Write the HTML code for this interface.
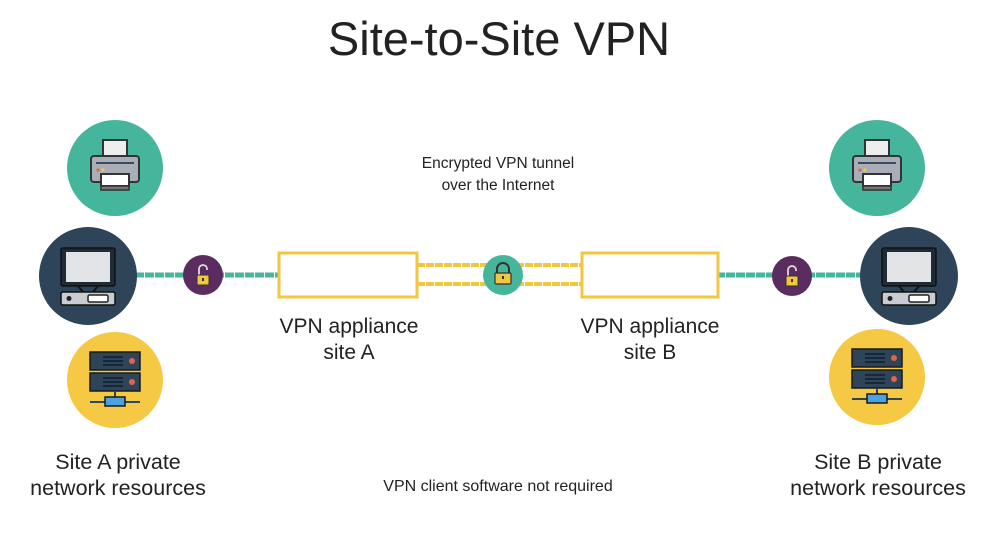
<!DOCTYPE html>
<html><head><meta charset="utf-8"><style>
html,body{margin:0;padding:0;background:#fff}
svg{display:block}
text{font-family:"Liberation Sans",sans-serif;fill:#222}
</style></head><body>
<svg width="997" height="539" viewBox="0 0 997 539" xmlns="http://www.w3.org/2000/svg">
<defs>
<g id="printer">
  <rect x="-12" y="-28" width="24" height="20" fill="#eee" stroke="#333" stroke-width="2"/>
  <rect x="-24" y="-12" width="48" height="26" rx="3" fill="#a9adb7" stroke="#333" stroke-width="2"/>
  <rect x="-19" y="-6" width="38" height="2" fill="#3a4a5c"/>
  <circle cx="-17" cy="2" r="1.6" fill="#e0644a"/><circle cx="-12" cy="2" r="1.6" fill="#f3c63f"/>
  <rect x="-14" y="6" width="28" height="12" fill="#fff" stroke="#333" stroke-width="2"/>
  <rect x="-14" y="18" width="28" height="4" fill="#777" stroke="#333" stroke-width="1.5"/>
</g>
<g id="monitor">
  <rect x="-27" y="-28" width="54" height="38" rx="2" fill="#1f2b36" stroke="#111" stroke-width="1.5"/>
  <rect x="-22" y="-24" width="44" height="30" fill="#e3e4e6"/>
  <path d="M-10 10 L-5 16 M10 10 L5 16" stroke="#111" stroke-width="2"/>
  <rect x="-27" y="16" width="54" height="13" rx="2" fill="#c9ccd1" stroke="#111" stroke-width="1.5"/>
  <circle cx="-19" cy="22.5" r="2.5" fill="#222"/>
  <rect x="0" y="19" width="20" height="7" rx="1.5" fill="#fff" stroke="#222" stroke-width="1.5"/>
</g>
<g id="server">
  <rect x="-25" y="-28" width="50" height="18" fill="#2d4459" stroke="#1a1a1a" stroke-width="1.5"/>
  <rect x="-25" y="-7" width="50" height="18" fill="#2d4459" stroke="#1a1a1a" stroke-width="1.5"/>
  <path d="M-12 -23h20M-12 -19h20M-12 -15h20M-12 -2h20M-12 2h20M-12 6h20" stroke="#0f1e2c" stroke-width="1.5"/>
  <circle cx="17" cy="-19" r="3" fill="#e0644a"/><circle cx="17" cy="2" r="3" fill="#e0644a"/>
  <path d="M0 11v8M-25 22h50" stroke="#2d4459" stroke-width="2"/>
  <rect x="-10" y="17" width="20" height="9" fill="#4aa3e0" stroke="#1a1a1a" stroke-width="1.5"/>
</g>
<g id="lockopen">
  <path d="M-4 -1 v-6 a4 4 0 0 1 8 0 v1" fill="none" stroke="#ddd" stroke-width="1.8"/>
  <rect x="-6" y="-1" width="12" height="10" rx="1" fill="#f3c63f" stroke="#333" stroke-width="1"/>
  <rect x="-1" y="2" width="2" height="3" fill="#333"/>
</g>
</defs>
<text x="499" y="55" font-size="47" text-anchor="middle" fill="#333">Site-to-Site VPN</text>

<line x1="135" y1="275" x2="280" y2="275" stroke="#45b69c" stroke-width="5" stroke-dasharray="9 1"/>
<line x1="716" y1="275" x2="862" y2="275" stroke="#45b69c" stroke-width="5" stroke-dasharray="9 1"/>
<line x1="417" y1="265" x2="582" y2="265" stroke="#f3c63f" stroke-width="4" stroke-dasharray="8 1"/>
<line x1="417" y1="284" x2="582" y2="284" stroke="#f3c63f" stroke-width="4" stroke-dasharray="8 1"/>
<rect x="279" y="253" width="138" height="44" fill="#fff" stroke="#f3c63f" stroke-width="3"/>
<rect x="582" y="253" width="136" height="44" fill="#fff" stroke="#f3c63f" stroke-width="3"/>

<circle cx="115" cy="168" r="48" fill="#45b69c"/><use href="#printer" x="115" y="168"/>
<circle cx="88" cy="276" r="49" fill="#2d4459"/><use href="#monitor" x="88" y="276"/>
<circle cx="115" cy="380" r="48" fill="#f6c944"/><use href="#server" x="115" y="380"/>
<circle cx="203" cy="275" r="20" fill="#5b2c5f"/><use href="#lockopen" x="203" y="276"/>

<circle cx="503" cy="275" r="20" fill="#45b69c"/>
<path d="M497 274 v-5 a6 6 0 0 1 12 0 v5" fill="none" stroke="#333" stroke-width="2"/>
<rect x="495" y="273" width="16" height="11" rx="1" fill="#f3c63f" stroke="#333" stroke-width="1.2"/>
<rect x="502" y="276" width="2" height="3" fill="#333"/>

<circle cx="877" cy="168" r="48" fill="#45b69c"/><use href="#printer" x="877" y="168"/>
<circle cx="909" cy="276" r="49" fill="#2d4459"/><use href="#monitor" x="909" y="276"/>
<circle cx="877" cy="377" r="48" fill="#f6c944"/><use href="#server" x="877" y="377"/>
<circle cx="792" cy="276" r="20" fill="#5b2c5f"/><use href="#lockopen" x="792" y="277"/>

<text x="498" y="168" font-size="15.5" text-anchor="middle">Encrypted VPN tunnel</text>
<text x="498" y="190" font-size="15.5" text-anchor="middle">over the Internet</text>
<text x="349" y="333" font-size="21" text-anchor="middle">VPN appliance</text>
<text x="349" y="359" font-size="21" text-anchor="middle">site A</text>
<text x="650" y="333" font-size="21" text-anchor="middle">VPN appliance</text>
<text x="650" y="359" font-size="21" text-anchor="middle">site B</text>
<text x="118" y="469" font-size="21.5" text-anchor="middle">Site A private</text>
<text x="118" y="495" font-size="21.5" text-anchor="middle">network resources</text>
<text x="878" y="469" font-size="21.5" text-anchor="middle">Site B private</text>
<text x="878" y="495" font-size="21.5" text-anchor="middle">network resources</text>
<text x="498" y="491" font-size="16" text-anchor="middle">VPN client software not required</text>
</svg>
</body></html>
